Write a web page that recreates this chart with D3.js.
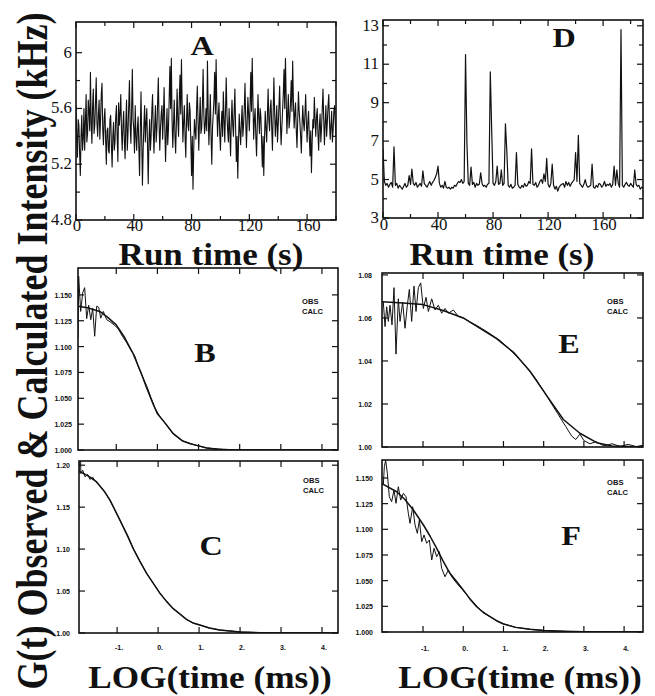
<!DOCTYPE html>
<html>
<head>
<meta charset="utf-8">
<script src="https://cdn.jsdelivr.net/npm/d3@7"></script>
<style>
  body { margin: 0; background: #fff; }
  svg { display: block; background: #fff; }
</style>
</head>
<body>
<svg id="fig" width="655" height="696"></svg>
<script>
// ---- data ----
// panel A: intensity (kHz), one value per half second of run time
var stepA = 0.5
var intensityA = [
  5.62, 5.40, 5.25, 5.52, 5.48, 5.28, 5.12, 5.40, 5.55, 5.30, 5.38, 5.60, 5.30, 5.50, 5.70, 5.36, 5.42, 5.66, 5.58, 5.44,
  5.86, 5.50, 5.35, 5.62, 5.74, 5.42, 5.48, 5.64, 5.82, 5.50, 5.40, 5.56, 5.66, 5.38, 5.52, 5.70, 5.78, 5.46, 5.34, 5.52,
  5.60, 5.38, 5.20, 5.44, 5.46, 5.30, 5.28, 5.52, 5.55, 5.34, 5.18, 5.40, 5.50, 5.30, 5.36, 5.54, 5.62, 5.40, 5.22, 5.64,
  5.48, 5.56, 5.70, 5.44, 5.30, 5.48, 5.58, 5.36, 5.24, 5.50, 5.66, 5.30, 5.42, 5.62, 5.80, 5.48, 5.35, 5.58, 5.88, 5.52,
  5.45, 5.28, 5.62, 5.40, 5.30, 5.46, 5.54, 5.32, 5.12, 5.44, 5.72, 5.38, 5.05, 5.30, 5.48, 5.62, 5.36, 5.50, 5.60, 5.34,
  5.06, 5.36, 5.52, 5.30, 5.40, 5.58, 5.70, 5.44, 5.28, 5.48, 5.62, 5.36, 5.45, 5.64, 5.82, 5.50, 5.30, 5.46, 5.56, 5.62,
  5.38, 5.54, 5.75, 5.46, 5.22, 5.42, 5.60, 5.34, 5.45, 5.66, 5.90, 5.60, 5.96, 5.52, 5.32, 5.48, 5.66, 5.40, 5.28, 5.50,
  5.74, 5.52, 5.40, 5.66, 5.84, 5.56, 5.95, 5.62, 5.36, 5.50, 5.62, 5.40, 5.25, 5.50, 5.70, 5.48, 5.44, 5.64, 5.58, 5.36,
  5.12, 5.40, 5.02, 5.30, 5.52, 5.44, 5.38, 5.60, 5.76, 5.50, 5.30, 5.52, 5.68, 5.42, 5.46, 5.62, 5.88, 5.56, 5.42, 5.48,
  5.60, 5.44, 5.94, 5.58, 5.34, 5.50, 5.70, 5.40, 5.20, 5.46, 5.56, 5.66, 5.86, 5.56, 5.95, 5.62, 5.40, 5.54, 5.64, 5.42,
  5.30, 5.48, 5.58, 5.40, 5.72, 5.52, 5.36, 5.58, 5.82, 5.56, 5.44, 5.36, 5.60, 5.44, 5.26, 5.50, 5.66, 5.48, 5.40, 5.58,
  5.74, 5.46, 5.22, 5.40, 5.10, 5.36, 5.56, 5.44, 5.34, 5.50, 5.62, 5.40, 5.48, 5.60, 5.78, 5.52, 5.32, 5.50, 5.68, 5.56,
  5.44, 5.62, 5.86, 5.58, 5.96, 5.66, 5.38, 5.52, 5.60, 5.40, 5.26, 5.48, 5.70, 5.54, 5.42, 5.60, 5.54, 5.36, 5.18, 5.40,
  5.12, 5.38, 5.58, 5.46, 5.36, 5.54, 5.74, 5.52, 5.44, 5.60, 5.66, 5.46, 5.30, 5.56, 5.82, 5.58, 5.40, 5.50, 5.62, 5.36,
  5.48, 5.62, 5.76, 5.50, 5.34, 5.46, 5.58, 5.70, 5.88, 5.60, 5.96, 5.68, 5.42, 5.56, 5.70, 5.46, 5.52, 5.64, 5.80, 5.58,
  5.94, 5.66, 5.46, 5.56, 5.64, 5.44, 5.32, 5.52, 5.72, 5.58, 5.50, 5.40, 5.28, 5.48, 5.62, 5.50, 5.44, 5.56, 5.70, 5.50,
  5.36, 5.50, 5.58, 5.40, 5.26, 5.44, 5.14, 5.36, 5.52, 5.46, 5.68, 5.52, 5.40, 5.54, 5.60, 5.42, 5.30, 5.48, 5.56, 5.36,
  5.46, 5.60, 5.74, 5.52, 5.34, 5.50, 5.62, 5.40, 5.50, 5.62, 5.70, 5.50, 5.38, 5.48, 5.58, 5.36, 5.44, 5.58, 5.62, 5.50,
  5.40
]
// panel D: intensity (kHz), one value per second, with burst spikes
var stepD = 1
var intensityD = [
  6.6, 4.9, 4.7, 4.8, 4.6, 4.75, 4.85, 4.6, 6.7, 4.7,
  4.8, 4.55, 4.7, 4.6, 4.5, 4.65, 4.8, 4.6, 4.7, 5.2,
  4.75, 5.55, 4.8, 4.7, 4.85, 4.6, 4.7, 4.8, 4.65, 5.45,
  4.8, 4.7, 4.6, 4.75, 4.9, 4.7, 4.85, 4.95, 5.1, 5.3,
  5.7, 4.8, 4.6, 4.7, 4.55, 4.9, 4.6, 4.55, 4.6, 4.5,
  4.6, 4.55, 4.7, 4.65, 4.8, 4.9, 4.85, 5.0, 4.8, 4.9,
  11.5, 6.9, 4.8, 4.7, 5.65, 4.75, 4.85, 4.6, 4.8, 4.7,
  4.75, 5.35, 4.8, 4.65, 4.7, 4.6, 4.75, 4.8, 10.6, 7.6,
  4.8, 4.7, 4.9, 5.7, 4.75, 4.8, 5.5, 4.7, 4.8, 7.9,
  6.5, 4.7, 4.6, 4.75, 4.55, 4.6, 4.7, 6.4, 4.75, 4.6,
  4.55, 4.7, 4.6, 4.8, 4.65, 4.7, 4.9, 4.8, 6.6, 4.75,
  4.7, 4.85, 4.6, 4.7, 4.9, 5.0, 4.8, 5.3, 4.9, 6.1,
  4.75, 4.6, 4.8, 5.8, 4.7, 4.5, 4.65, 4.4, 4.6, 4.7,
  4.75, 4.8, 4.6, 4.9, 4.7, 4.85, 4.65, 4.8, 4.9, 5.0,
  6.4, 4.9, 7.3, 4.8, 4.7, 4.6, 4.75, 5.0, 4.7, 4.6,
  4.65, 4.7, 5.8, 4.6, 4.55, 4.7, 4.6, 4.8, 4.75, 4.6,
  4.7, 4.9, 4.65, 4.75, 4.7, 4.8, 4.6, 4.75, 5.7, 4.7,
  5.5, 4.8, 4.6, 12.8, 4.7, 4.6, 4.75, 4.85, 4.7, 4.65,
  4.8, 4.7, 4.6, 5.5, 4.75, 4.65, 4.7, 4.5, 4.6, 4.55
]

// correlation curves: [log10(time/ms), G(t)]
var obsB = [
  [-1.93, 1.108], [-1.914, 1.168], [-1.865, 1.134], [-1.816, 1.152], [-1.768, 1.157],
  [-1.719, 1.127], [-1.67, 1.140], [-1.62, 1.126], [-1.573, 1.137], [-1.524, 1.110],
  [-1.476, 1.139], [-1.427, 1.138], [-1.378, 1.1275], [-1.314, 1.134], [-1.232, 1.126],
  [-1.15, 1.124], [-1.05, 1.121], [-0.95, 1.117], [-0.85, 1.110], [-0.75, 1.104],
  [-0.65, 1.097], [-0.55, 1.091], [-0.45, 1.079], [-0.35, 1.070], [-0.25, 1.061],
  [-0.15, 1.050], [-0.05, 1.040], [0.05, 1.033], [0.2, 1.025], [0.4, 1.015],
  [0.6, 1.009], [0.9, 1.005], [1.2, 1.002], [1.6, 1.0008], [2.0, 1.0],
  [2.5, 1.0003], [3.0, 1.0], [3.5, 1.0002], [4.0, 1.0], [4.39, 1.0]
]
var calcB = [
  [-1.93, 1.139], [-1.7, 1.1375], [-1.4, 1.134], [-1.2, 1.128], [-1.0, 1.121],
  [-0.8, 1.109], [-0.6, 1.094], [-0.4, 1.075], [-0.27, 1.061], [-0.1, 1.044],
  [0.0, 1.035], [0.2, 1.0255], [0.38, 1.016], [0.6, 1.009], [0.8, 1.006],
  [1.0, 1.004], [1.2, 1.002], [1.45, 1.0006], [2.0, 1.0001], [4.39, 1.0]
]
var obsC = [
  [-1.93, 1.19], [-1.925, 1.205], [-1.89, 1.205], [-1.885, 1.19], [-1.84, 1.194],
  [-1.78, 1.186], [-1.72, 1.189], [-1.66, 1.183], [-1.6, 1.186], [-1.52, 1.180],
  [-1.45, 1.177], [-1.38, 1.173], [-1.3, 1.168], [-1.2, 1.160], [-1.1, 1.151],
  [-0.93, 1.134], [-0.75, 1.117], [-0.6, 1.100], [-0.45, 1.086], [-0.28, 1.071],
  [-0.1, 1.058], [0.05, 1.047], [0.2, 1.038], [0.37, 1.029], [0.55, 1.022],
  [0.7, 1.016], [0.85, 1.012], [1.02, 1.0095], [1.25, 1.006], [1.5, 1.0036],
  [2.0, 1.0012], [2.5, 1.0003], [3.0, 1.0], [4.39, 1.0]
]
var calcC = [
  [-1.93, 1.193], [-1.7, 1.187], [-1.5, 1.180], [-1.3, 1.168], [-1.17, 1.158],
  [-0.93, 1.1345], [-0.75, 1.116], [-0.6, 1.100], [-0.45, 1.086], [-0.28, 1.071],
  [-0.1, 1.058], [0.05, 1.047], [0.2, 1.038], [0.37, 1.029], [0.55, 1.022],
  [0.7, 1.016], [0.85, 1.012], [1.02, 1.0095], [1.25, 1.006], [1.5, 1.0036],
  [2.0, 1.0012], [2.5, 1.0003], [3.0, 1.0], [4.39, 1.0]
]
var obsE = [
  [-1.987, 1.0674], [-1.945, 1.056], [-1.904, 1.0652], [-1.862, 1.0584], [-1.821, 1.0659],
  [-1.771, 1.0568], [-1.721, 1.0741], [-1.672, 1.0432], [-1.614, 1.0689], [-1.572, 1.0584],
  [-1.506, 1.0674], [-1.448, 1.0552], [-1.39, 1.0659], [-1.34, 1.0733], [-1.282, 1.0584],
  [-1.224, 1.0748], [-1.174, 1.063], [-1.116, 1.0741], [-1.058, 1.0763], [-0.992, 1.0644],
  [-0.925, 1.0696], [-0.867, 1.063], [-0.784, 1.0689], [-0.702, 1.0637], [-0.619, 1.0659],
  [-0.536, 1.0622], [-0.453, 1.0644], [-0.37, 1.0622], [-0.246, 1.0637], [-0.121, 1.0607],
  [0.003, 1.060], [0.169, 1.0581], [0.335, 1.0565], [0.6, 1.0535], [0.9, 1.0497],
  [1.2, 1.0446], [1.5, 1.0387], [1.8, 1.0318], [2.1, 1.0230], [2.35, 1.0155],
  [2.55, 1.0095], [2.7, 1.0050], [2.8, 1.0035], [2.9, 1.0060], [3.0, 1.0030],
  [3.15, 1.0015], [3.3, 1.0025], [3.5, 1.0005], [3.7, 1.0015], [3.9, 1.0003],
  [4.1, 1.0012], [4.3, 1.0002], [4.47, 1.0008]
]
var calcE = [
  [-2.02, 1.0675], [-1.5, 1.0670], [-1.0, 1.0662], [-0.5, 1.0635], [0.0, 1.060],
  [0.42, 1.0552], [0.83, 1.0504], [1.25, 1.044], [1.66, 1.0352], [2.08, 1.0238],
  [2.49, 1.0128], [2.9, 1.0064], [3.32, 1.002], [3.7, 1.0005], [4.47, 1.0]
]
var obsF = [
  [-1.987, 1.1431], [-1.962, 1.161], [-1.929, 1.1675], [-1.887, 1.1545], [-1.838, 1.1317],
  [-1.78, 1.1269], [-1.721, 1.1383], [-1.672, 1.1253], [-1.614, 1.1415], [-1.556, 1.1285],
  [-1.489, 1.135], [-1.423, 1.1317], [-1.365, 1.1156], [-1.323, 1.1058], [-1.257, 1.122],
  [-1.199, 1.1042], [-1.141, 1.0961], [-1.091, 1.109], [-1.033, 1.0879], [-0.975, 1.0945],
  [-0.909, 1.0864], [-0.842, 1.0896], [-0.784, 1.0701], [-0.726, 1.0815], [-0.66, 1.0733],
  [-0.594, 1.0782], [-0.536, 1.062], [-0.453, 1.0538], [-0.37, 1.0604], [-0.287, 1.0538],
  [-0.162, 1.0474], [0.003, 1.0402], [0.2, 1.0312], [0.4, 1.0225], [0.6, 1.0165],
  [0.8, 1.0115], [1.0, 1.0080], [1.3, 1.0046], [1.7, 1.0024], [2.1, 1.0013],
  [2.6, 1.0005], [3.2, 1.0002], [4.47, 1.0]
]
var calcF = [
  [-2.02, 1.1445], [-1.655, 1.1366], [-1.45, 1.129], [-1.24, 1.1188], [-0.99, 1.1042],
  [-0.82, 1.093], [-0.66, 1.0815], [-0.5, 1.069], [-0.33, 1.0572], [-0.16, 1.049],
  [0.0, 1.041], [0.17, 1.032], [0.335, 1.0246], [0.5, 1.019], [0.667, 1.0149],
  [0.83, 1.011], [1.0, 1.0078], [1.3, 1.0045], [1.66, 1.0026], [2.0, 1.0014],
  [2.49, 1.0007], [3.0, 1.0002], [4.47, 1.0]
]

// tick values
var runTimeTicks = [0, 40, 80, 120, 160]
var runTimeMinor = [20, 60, 100, 140, 180]
var intensityTicksA = [4.8, 5.2, 5.6, 6]
var intensityMinorA = [5.0, 5.4, 5.8]
var intensityTicksD = [3, 5, 7, 9, 11, 13]
var intensityMinorD = [4, 6, 8, 10, 12]
var logTicks = [-1, 0, 1, 2, 3, 4]
var gTicks3 = [1.000, 1.025, 1.050, 1.075, 1.100, 1.125, 1.150]
var gTicksC = [1.00, 1.05, 1.10, 1.15, 1.20]
var gTicksE = [1.00, 1.02, 1.04, 1.06, 1.08]

var SERIF = "'Liberation Serif', 'Times New Roman', serif"
var SANS = "'Liberation Sans', Arial, sans-serif"

var svg = d3.select('#fig')

// text helper, sx stretches glyphs horizontally like the scan does
function label (x, y, str, opt) {
  opt = opt || {}
  return svg.append('text')
    .attr('transform', 'translate(' + x + ',' + y + ') scale(' + (opt.sx || 1) + ',1)' + (opt.rot ? ' rotate(' + opt.rot + ')' : ''))
    .attr('text-anchor', opt.anchor || 'start')
    .attr('font-family', opt.family || SERIF)
    .attr('font-size', opt.size || 16)
    .attr('font-weight', opt.weight || 'normal')
    .attr('fill', '#111')
    .text(str)
}

var clipId = 0
function drawPanel (p) {
  var x = d3.scaleLinear().domain(p.xDomain).range([p.left, p.right])
  var y = d3.scaleLinear().domain(p.yDomain).range([p.bottom, p.top])
  var g = svg.append('g')
  var id = 'clip' + (clipId++)
  svg.append('clipPath').attr('id', id).append('rect')
    .attr('x', p.left).attr('y', p.top)
    .attr('width', p.right - p.left).attr('height', p.bottom - p.top)

  var line = d3.line().x(function (d) { return x(d[0]) }).y(function (d) { return y(d[1]) })
  p.series.forEach(function (s) {
    g.append('path')
      .datum(s.data)
      .attr('clip-path', 'url(#' + id + ')')
      .attr('fill', 'none')
      .attr('stroke', '#111')
      .attr('stroke-width', s.width || 1)
      .attr('stroke-linejoin', 'round')
      .attr('d', line)
  })

  // inward ticks on all four sides
  function yTick (v, len) {
    g.append('line').attr('x1', p.left).attr('x2', p.left + len).attr('y1', y(v)).attr('y2', y(v))
    g.append('line').attr('x1', p.right).attr('x2', p.right - len).attr('y1', y(v)).attr('y2', y(v))
  }
  function xTick (v, len) {
    g.append('line').attr('x1', x(v)).attr('x2', x(v)).attr('y1', p.bottom).attr('y2', p.bottom - len)
    g.append('line').attr('x1', x(v)).attr('x2', x(v)).attr('y1', p.top).attr('y2', p.top + len)
  }
  p.yTicks.forEach(function (v) { yTick(v, 6) })
  ;(p.yMinor || []).forEach(function (v) { yTick(v, 4) })
  p.xTicks.forEach(function (v) { xTick(v, 6) })
  ;(p.xMinor || []).forEach(function (v) { xTick(v, 4) })
  g.selectAll('line').attr('stroke', '#111').attr('stroke-width', 1.2)

  g.append('rect')
    .attr('x', p.left).attr('y', p.top)
    .attr('width', p.right - p.left).attr('height', p.bottom - p.top)
    .attr('fill', 'none').attr('stroke', '#111').attr('stroke-width', 1.6)

  // tick labels
  p.yTicks.forEach(function (v) {
    label(p.left - p.yLabelGap, y(v) + p.yLabelDy, p.yFormat(v), { anchor: 'end', family: p.tickFamily, size: p.tickSize, sx: p.tickSx, weight: p.tickWeight })
  })
  if (p.xLabels) {
    p.xTicks.forEach(function (v) {
      label(x(v) + p.xLabelDx, p.xLabelY, p.xFormat(v), { anchor: 'middle', family: p.tickFamily, size: p.tickSize, sx: p.tickSx, weight: p.tickWeight })
    })
  }
  if (p.legend) {
    label(p.legend[0], p.legend[1], 'OBS', { family: SANS, size: 8, sx: 0.95, weight: 'bold' })
    label(p.legend[0], p.legend[1] + 10, 'CALC', { family: SANS, size: 8, sx: 0.95, weight: 'bold' })
  }
  label(p.letter[1], p.letter[2], p.letter[0], { anchor: 'middle', size: 28, weight: 'bold', sx: 1.15 })
}

function fmtLog (v) { return (v < 0 ? '-' : '') + Math.abs(v) + '.' }
function asSeries (vals, step) { return vals.map(function (v, i) { return [i * step, v] }) }

var timePanel = {
  xTicks: runTimeTicks, xMinor: runTimeMinor, xLabels: true,
  xFormat: String, yFormat: String, xLabelY: 231, xLabelDx: 1,
  yLabelGap: 4, yLabelDy: 5, tickFamily: SERIF, tickSize: 16, tickSx: 1.05, tickWeight: 'normal'
}
var corrPanel = {
  xTicks: logTicks, xFormat: fmtLog, xLabelDx: 2,
  yLabelDy: 3, tickFamily: SANS, tickSize: 8, tickSx: 0.88, tickWeight: 'bold'
}

drawPanel(Object.assign({}, timePanel, {
  left: 76, right: 336, top: 22, bottom: 220,
  xDomain: [0, 180], yDomain: [4.8, 6.22],
  yTicks: intensityTicksA, yMinor: intensityMinorA,
  series: [{ data: asSeries(intensityA, stepA), width: 1.1 }],
  letter: ['A', 202, 55]
}))
drawPanel(Object.assign({}, timePanel, {
  left: 383, right: 643, top: 20, bottom: 218,
  xDomain: [0, 189], yDomain: [3, 13.3], xLabelY: 230,
  yTicks: intensityTicksD, yMinor: intensityMinorD,
  series: [{ data: asSeries(intensityD, stepD), width: 1.2 }],
  letter: ['D', 564, 47]
}))
drawPanel(Object.assign({}, corrPanel, {
  left: 78, right: 338, top: 268, bottom: 450,
  xDomain: [-1.93, 4.39], yDomain: [1.0, 1.176],
  yTicks: gTicks3, yFormat: d3.format('.3f'), yLabelGap: 6,
  series: [{ data: obsB, width: 1 }, { data: calcB, width: 1.5 }],
  legend: [302, 304], letter: ['B', 205, 362]
}))
drawPanel(Object.assign({}, corrPanel, {
  left: 79, right: 338, top: 461, bottom: 633,
  xDomain: [-1.93, 4.39], yDomain: [1.0, 1.205],
  yTicks: gTicksC, yFormat: d3.format('.2f'), yLabelGap: 9,
  xLabels: true, xLabelY: 650,
  series: [{ data: obsC, width: 1 }, { data: calcC, width: 1.5 }],
  legend: [303, 483], letter: ['C', 211, 555]
}))
drawPanel(Object.assign({}, corrPanel, {
  left: 382, right: 643, top: 273, bottom: 447,
  xDomain: [-2.02, 4.47], yDomain: [1.0, 1.0809],
  yTicks: gTicksE, yFormat: d3.format('.2f'), yLabelGap: 10,
  series: [{ data: obsE, width: 1 }, { data: calcE, width: 1.5 }],
  legend: [607, 304], letter: ['E', 569, 353]
}))
drawPanel(Object.assign({}, corrPanel, {
  left: 382, right: 643, top: 460, bottom: 632,
  xDomain: [-2.02, 4.47], yDomain: [1.0, 1.1675],
  yTicks: gTicks3, yFormat: d3.format('.3f'), yLabelGap: 9,
  xLabels: true, xLabelY: 651,
  series: [{ data: obsF, width: 1 }, { data: calcF, width: 1.5 }],
  legend: [607, 485], letter: ['F', 571, 545]
}))

// axis titles
label(211, 265, 'Run time (s)', { anchor: 'middle', size: 31, weight: 'bold', sx: 1.13 })
label(502, 265, 'Run time (s)', { anchor: 'middle', size: 31, weight: 'bold', sx: 1.13 })
label(210, 688, 'LOG(time (ms))', { anchor: 'middle', size: 32, weight: 'bold', sx: 1.1 })
label(520, 688, 'LOG(time (ms))', { anchor: 'middle', size: 32, weight: 'bold', sx: 1.1 })
label(47, 351, 'G(t) Observed & Calculated Intensity (kHz)', { anchor: 'middle', size: 36, weight: 'bold', sx: 1.26, rot: -90 })
</script>
</body>
</html>
